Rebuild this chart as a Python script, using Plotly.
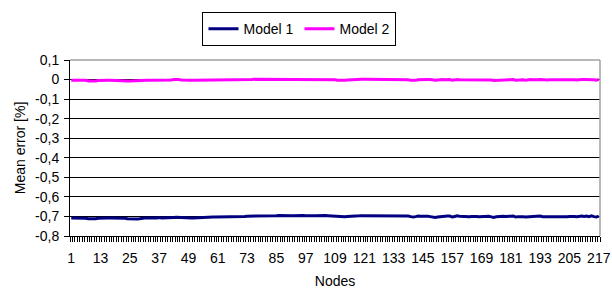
import plotly.graph_objects as go

nodes = list(range(1, 218))

model1 = [
    -0.708, -0.708, -0.708, -0.709, -0.708, -0.708, -0.709, -0.712, -0.713, -0.712,
    -0.712, -0.709, -0.708, -0.708, -0.707, -0.708, -0.708, -0.708, -0.709, -0.708,
    -0.711, -0.708, -0.709, -0.712, -0.713, -0.712, -0.712, -0.713, -0.712, -0.709,
    -0.708, -0.708, -0.707, -0.708, -0.708, -0.708, -0.706, -0.708, -0.708, -0.708,
    -0.708, -0.707, -0.705, -0.704, -0.705, -0.706, -0.708, -0.709, -0.708, -0.708,
    -0.708, -0.707, -0.706, -0.705, -0.705, -0.704, -0.704, -0.704, -0.703, -0.703,
    -0.703, -0.703, -0.702, -0.702, -0.702, -0.702, -0.702, -0.702, -0.701, -0.701,
    -0.701, -0.700, -0.699, -0.699, -0.699, -0.699, -0.698, -0.698, -0.698, -0.698,
    -0.698, -0.697, -0.697, -0.697, -0.696, -0.695, -0.696, -0.697, -0.697, -0.697,
    -0.697, -0.697, -0.696, -0.695, -0.695, -0.695, -0.696, -0.697, -0.697, -0.697,
    -0.696, -0.695, -0.695, -0.695, -0.695, -0.696, -0.697, -0.699, -0.700, -0.701,
    -0.701, -0.701, -0.701, -0.700, -0.700, -0.699, -0.698, -0.697, -0.697, -0.696,
    -0.696, -0.696, -0.695, -0.695, -0.695, -0.695, -0.695, -0.696, -0.696, -0.695,
    -0.695, -0.695, -0.695, -0.696, -0.696, -0.697, -0.697, -0.696, -0.698, -0.701,
    -0.703, -0.701, -0.698, -0.699, -0.698, -0.700, -0.699, -0.701, -0.705, -0.705,
    -0.703, -0.701, -0.699, -0.700, -0.698, -0.698, -0.703, -0.700, -0.697, -0.699,
    -0.700, -0.698, -0.701, -0.702, -0.700, -0.699, -0.700, -0.702, -0.701, -0.699,
    -0.698, -0.699, -0.702, -0.705, -0.702, -0.701, -0.698, -0.699, -0.700, -0.701,
    -0.699, -0.698, -0.703, -0.701, -0.700, -0.701, -0.703, -0.702, -0.701, -0.702,
    -0.702, -0.700, -0.698, -0.701, -0.703, -0.702, -0.701, -0.702, -0.703, -0.701,
    -0.701, -0.702, -0.700, -0.701, -0.700, -0.699, -0.700, -0.701, -0.699, -0.698,
    -0.700, -0.698, -0.701, -0.697, -0.701, -0.703, -0.698,
]

model2 = [
    -0.003, -0.003, -0.003, -0.004, -0.003, -0.003, -0.004, -0.007, -0.008, -0.007,
    -0.007, -0.005, -0.004, -0.004, -0.004, -0.004, -0.004, -0.004, -0.005, -0.004,
    -0.006, -0.004, -0.005, -0.007, -0.008, -0.007, -0.007, -0.008, -0.007, -0.005,
    -0.004, -0.004, -0.004, -0.004, -0.004, -0.004, -0.003, -0.004, -0.004, -0.004,
    -0.003, -0.002, 0.000, 0.001, 0.000, -0.002, -0.003, -0.004, -0.004, -0.004,
    -0.003, -0.003, -0.002, -0.002, -0.002, -0.002, -0.002, -0.002, -0.002, -0.002,
    -0.002, -0.002, -0.002, -0.002, -0.002, -0.002, -0.001, -0.001, -0.001, -0.001,
    -0.001, -0.001, -0.001, -0.001, 0.000, 0.001, 0.001, 0.002, 0.002, 0.002,
    0.002, 0.002, 0.002, 0.002, 0.002, 0.002, 0.002, 0.002, 0.002, 0.002,
    0.002, 0.002, 0.002, 0.002, 0.002, 0.002, 0.002, 0.002, 0.002, 0.002,
    0.002, 0.002, 0.002, 0.002, 0.002, 0.002, 0.001, 0.000, -0.001, -0.003,
    -0.004, -0.004, -0.003, -0.002, -0.001, 0.000, 0.001, 0.001, 0.001, 0.001,
    0.001, 0.001, 0.001, 0.001, 0.001, 0.001, 0.001, 0.001, 0.001, 0.001,
    0.001, 0.001, 0.001, 0.001, 0.001, 0.001, 0.001, 0.001, -0.001, -0.004,
    -0.005, -0.004, -0.001, 0.000, 0.000, -0.001, 0.000, 0.000, -0.003, -0.004,
    -0.002, 0.000, 0.000, -0.001, 0.000, 0.000, -0.003, -0.001, 0.000, -0.001,
    -0.001, 0.000, -0.002, -0.001, 0.000, 0.000, -0.002, -0.001, 0.000, 0.000,
    0.000, 0.000, -0.002, -0.005, -0.004, -0.003, -0.003, -0.002, -0.001, 0.000,
    0.000, 0.000, -0.003, -0.002, 0.000, -0.001, -0.003, -0.001, 0.000, -0.001,
    -0.002, -0.001, 0.000, -0.001, -0.003, -0.002, -0.001, -0.002, -0.003, -0.001,
    -0.001, -0.002, -0.001, -0.001, -0.001, 0.000, -0.001, -0.002, 0.000, 0.000,
    0.000, 0.000, -0.002, 0.001, -0.001, -0.003, 0.001,
]

x_tick_vals = list(range(1, 218, 12))
y_tick_vals = [-0.8, -0.7, -0.6, -0.5, -0.4, -0.3, -0.2, -0.1, 0.0, 0.1]
y_tick_text = ["-0,8", "-0,7", "-0,6", "-0,5", "-0,4", "-0,3", "-0,2", "-0,1", "0", "0,1"]

font_family = "Liberation Sans, Arial, sans-serif"
FS = 14

fig = go.Figure()
fig.add_trace(go.Scatter(x=nodes, y=model1, mode="lines", name="Model 1",
                         line=dict(color="#000080", width=3)))
fig.add_trace(go.Scatter(x=nodes, y=model2, mode="lines", name="Model 2",
                         line=dict(color="#FF00FF", width=3)))

fig.update_layout(
    width=612, height=289,
    margin=dict(l=70, r=12, t=60, b=53, autoexpand=False),
    paper_bgcolor="white", plot_bgcolor="white",
    font=dict(family=font_family, size=FS, color="black"),
    showlegend=True,
    legend=dict(orientation="h", x=0.433, y=0.958, xref="paper", yref="container",
                xanchor="center", yanchor="top",
                bordercolor="black", borderwidth=1, bgcolor="white",
                font=dict(size=FS), itemwidth=30, tracegroupgap=0,
                entrywidth=51, entrywidthmode="pixels"),
    xaxis=dict(
        range=[0.5, 217.5], tickmode="array", tickvals=x_tick_vals,
        ticktext=[str(v) for v in x_tick_vals],
        ticks="outside", ticklen=5, tickcolor="rgba(0,0,0,0)",
        ticklabelstandoff=4, automargin=False,
        showgrid=False, zeroline=False,
        showline=True, linecolor="black", linewidth=1,
        tickfont=dict(size=FS),
        minor=dict(tickmode="linear", tick0=0.5, dtick=1, ticks="outside",
                   ticklen=5, tickcolor="black", tickwidth=1, showgrid=False),
        title=dict(text="Nodes", font=dict(size=FS), standoff=13),
    ),
    yaxis=dict(
        range=[-0.8, 0.1], tickmode="array", tickvals=y_tick_vals, ticktext=y_tick_text,
        ticks="outside", ticklen=5, tickcolor="black", automargin=False,
        showgrid=True, gridcolor="black", gridwidth=1, zeroline=False,
        showline=True, linecolor="black", linewidth=1,
        tickfont=dict(size=FS), ticklabelstandoff=2,
        title=dict(text="Mean error [%]", font=dict(size=FS), standoff=6),
    ),
)

# gray plot-area border on top and right
fig.add_shape(type="line", xref="paper", yref="paper", x0=0, x1=1, y0=1, y1=1,
              line=dict(color="#a0a0a0", width=1.5))
fig.add_shape(type="line", xref="paper", yref="paper", x0=1, x1=1, y0=0, y1=1,
              line=dict(color="#a0a0a0", width=1.5))

fig.write_html("out.html", config={"displayModeBar": False},
               post_script="document.body.style.margin='0';")
